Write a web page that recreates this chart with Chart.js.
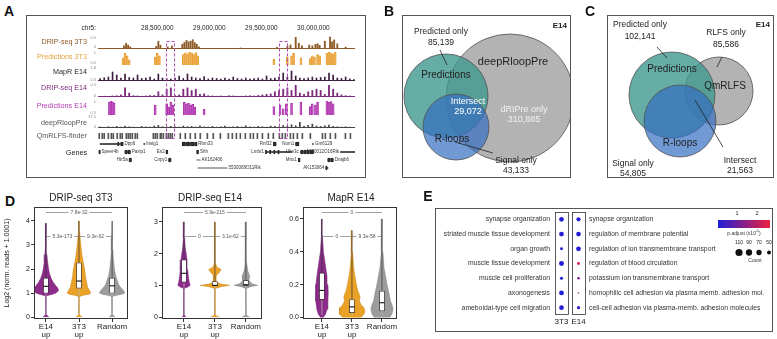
<!DOCTYPE html>
<html><head><meta charset="utf-8">
<script src="https://cdn.jsdelivr.net/npm/chart.js@4.4.1/dist/chart.umd.min.js"></script>
<style>
html,body{margin:0;padding:0;background:#fff;}
#page{position:relative;width:777px;height:339px;overflow:hidden;font-family:"Liberation Sans",Arial,Helvetica,sans-serif;}
#page canvas{position:absolute;}
.t{position:absolute;white-space:nowrap;line-height:1;}
.frame{position:absolute;border:1px solid #555;box-sizing:border-box;}
</style></head>
<body><div id="page"></div>
<script>
// ================= DATA =================
// ---- Panel A: genome browser (chr5, Mb) ----
const chrMin = 27.93, chrMax = 30.40;
const coordTicks = [28.5, 29.0, 29.5, 30.0];
const highlightStart = [28.585, 29.665];
const highlightEnd = [28.665, 29.745];
const binStart = 27.95, binStep = 0.04;

const dripPos3T3 = [28.18,28.20,28.22,28.24,28.49,28.51,28.53,28.60,28.64,28.74,28.76,28.78,28.80,28.82,28.84,28.86,28.88,28.90,29.30,29.65,29.75,29.78,29.83,29.86,29.89,29.96,29.99,30.02,30.04,30.06,30.11,30.16,30.18,30.20,30.23,30.31];
const dripVal3T3 = [0.12,0.22,0.15,0.08,0.10,0.30,0.15,0.08,0.12,0.18,0.25,0.33,0.28,0.30,0.36,0.25,0.18,0.08,0.04,0.06,0.10,0.16,0.45,0.22,0.12,0.15,0.12,0.18,0.20,0.14,0.30,0.46,0.28,0.35,0.20,0.07];

const predPos3T3 = [28.17,28.19,28.21,28.23,28.48,28.50,28.52,28.75,28.77,28.79,28.81,28.83,28.85,28.87,28.89,29.62,29.75,29.79,29.81,29.88,29.97,29.99,30.01,30.04,30.06,30.13,30.15,30.17,30.19,30.21];
const predVal3T3 = [0.78,0.95,0.85,0.70,0.80,0.95,0.85,0.90,0.97,0.92,1.0,0.95,0.90,0.98,0.85,0.72,0.80,0.85,0.95,0.78,0.75,0.85,0.80,0.90,0.85,0.95,1.0,0.97,0.92,1.0];

const mapRE14 = [0.55,0.62,0.7,1.2,0.9,0.6,1.0,0.65,0.6,0.9, 0.55,0.6,0.7,0.5,1.0,0.6,0.55,0.5,0.6,0.8, 0.55,1.0,0.7,0.6,0.55,0.75,0.5,0.6,0.55,0.5, 0.6,0.5,0.7,0.55,0.5,0.6,0.5,0.55,0.6,0.5, 0.8,0.55,0.6,0.7,1.1,0.7,1.3,0.8,0.6,0.55, 0.6,0.7,0.6,0.65,0.7,1.1,0.9,0.6,0.55,0.7, 0.5,0.45];

const dripE14 = [0.02,0.03,0.02,0.04,0.05,0.08,0.35,0.15,0.05,0.04, 0.03,0.04,0.05,0.06,0.2,0.08,0.3,0.35,0.05,0.08, 0.3,0.35,0.25,0.3,0.1,0.12,0.05,0.04,0.03,0.04, 0.03,0.05,0.04,0.03,0.03,0.04,0.05,0.04,0.06,0.08, 0.1,0.12,0.2,0.25,0.3,0.35,0.25,0.45,0.15,0.1, 0.2,0.25,0.3,0.25,0.1,0.45,0.3,0.15,0.08,0.05, 0.04,0.03];

const predPosE14 = [28.04,28.055,28.07,28.085,28.48,28.59,28.61,28.63,28.65,28.76,28.78,28.80,28.82,28.84,28.86,28.95,29.62,29.68,29.71,29.74,29.79,29.88,29.97,29.99,30.02,30.04,30.13,30.15,30.17,30.19];
const predValE14 = [0.95,1.0,0.97,0.92,0.85,0.90,0.78,0.95,0.85,0.95,0.90,0.92,0.85,0.88,0.78,0.70,0.80,0.85,0.72,0.90,0.92,0.95,0.80,0.90,0.85,0.95,1.0,0.95,0.98,0.90];

const deepRloopPre = [3,2,4,3,5,3,6,4,3,2, 5,4,3,6,8,4,3,5,4,3, 6,4,5,3,7,4,3,5,3,4, 6,3,4,5,3,7,4,3,5,4, 3,6,5,4,8,6,10,7,18,5, 8,12,6,5,7,9,5,4,3,4, 3,2];

const qmrlfsPos = [27.942,27.971,27.990,28.029,28.058,28.077,28.115,28.144,28.163,28.202,28.221,28.240,28.260,28.288,28.308,28.462,28.481,28.500,28.529,28.538,28.558,28.587,28.606,28.625,28.644,28.721,28.769,28.817,28.865,28.913,28.981,29.038,29.106,29.183,29.221,29.260,29.298,29.346,29.394,29.423,29.462,29.510,29.567,29.615,29.673,29.702,29.731,29.779,29.808,29.846,29.894,29.971,30.087,30.115,30.163,30.212,30.308,30.356];

const geneName  = ['Dpp6','Insig1','Rbm33','Rnf32','Nom1','Gm6129','Speer4b','Paxip1','En2','Shh','Lmbr1','Ube3c','A930012O16Rik','Htr5a','Cnpy1','AK162406','Mnx1','Dnajb6','5530068O11Rik','AK153064'];
const geneRow   = [0,0,0,0,0,0, 1,1,1,1,1,1,1, 2,2,2,2,2, 3,3];
const geneStart = [27.95,28.37,28.74,29.615,29.83,29.99, 27.94,28.19,28.585,28.88,29.54,29.875,30.26, 28.23,28.61,28.88,29.855,30.14, 28.89,30.12];
const geneEnd   = [28.17,28.38,28.88,29.64,29.86,30.0, 27.95,28.24,28.60,28.895,29.79,30.0,30.40, 28.25,28.63,28.91,29.87,30.19, 29.17,30.14];
const geneSide  = ['r','r','r','l','l','r', 'r','r','l','r','l','l','l', 'l','l','r','l','r', 'r','l'];
const geneDotted= [0,0,0,0,0,0, 0,0,0,0,0,0,0, 0,0,1,0,0, 1,0];
const exonRow   = [0,0,0,0,0,0,0,0, 1,1,1,1,1,1,1,1,1,1,1,1,1, 2,2,2,2,2, 3];
const exonStart = [28.12,28.15,28.74,28.78,28.82,28.86,29.615,29.83, 27.94,28.19,28.22,28.585,28.88,29.54,29.58,29.62,29.66,29.88,29.91,29.94,29.97, 28.23,28.61,29.855,30.14,30.17, 30.12];
const exonEnd   = [28.13,28.17,28.77,28.81,28.85,28.88,29.64,29.86, 27.95,28.21,28.24,28.60,28.895,29.55,29.59,29.63,29.67,29.90,29.93,29.96,30.0, 28.25,28.63,29.87,30.16,30.19, 30.13];

// ---- Panels B / C: Venn (box-relative units, 1 unit = 1 px) ----
const vennFills = ['rgba(52,110,192,0.70)','rgba(62,152,142,0.80)','rgba(172,172,172,0.92)'];
const vennBcx = [54, 44, 108], vennBcy = [112, 81, 83], vennBr = [33, 42, 64];
const vennCcx = [73, 65, 112], vennCcy = [106, 80, 76], vennCr = [36, 43, 34];
const vennBlines = [[38,35,45,50],[53,127,91,138]];
const vennClines = [[50,32,60,43],[115,42,110,52],[88,85,116,132]];

// ---- Panel D: violins ----
const violinLabels = [['E14','up'],['3T3','up'],'Random'];
const violinColors = ['#8D2B8B','#E9A227','#9C9C9C'];
const violinEdges  = ['#6E1E6C','#C98410','#7E7E7E'];

const d1Levels = [[0,0.05,0.12,0.85,0.9,0.95,1.0,1.1,1.2,1.3,1.45,1.6,1.8,2.0,2.3,2.6,3.0,3.5,3.9],
                  [0,0.06,0.15,0.85,0.9,0.95,1.0,1.1,1.25,1.5,1.75,2.0,2.25,2.5,2.8,3.2,3.6,4.0],
                  [0,0.06,0.15,0.85,0.9,0.95,1.0,1.1,1.2,1.35,1.5,1.7,2.0,2.4,2.8,3.3,4.0]];
const d1Widths = [[0.09,0.05,0.006,0.006,0.05,0.2,0.3,0.38,0.36,0.3,0.22,0.16,0.11,0.08,0.05,0.03,0.018,0.009,0.003],
                  [0.09,0.04,0.006,0.006,0.1,0.3,0.36,0.32,0.26,0.22,0.19,0.17,0.13,0.1,0.07,0.04,0.015,0.004],
                  [0.09,0.04,0.006,0.006,0.1,0.3,0.38,0.35,0.28,0.2,0.16,0.11,0.07,0.04,0.022,0.01,0.003]];
const d1Q1 = [1.0,1.2,1.0], d1Med = [1.28,1.5,1.3], d1Q3 = [1.62,2.25,1.62], d1Max = [3.9,4.0,4.0];
const d1Brackets = [[1,3,4.37,'7.8e-32'],[1,2,3.37,'5.3e-173'],[2,3,3.37,'9.3e-62']];
const d1Ticks = [0,1,2,3,4];

const d2Levels = [[0,0.05,0.1,0.9,0.95,1.0,1.1,1.3,1.5,1.8,2.0,2.2,2.5,3.0],
                  [0,0.04,0.08,0.9,0.96,1.0,1.04,1.1,1.3,1.42,1.5,1.58,1.7,2.0,3.0],
                  [0,0.04,0.08,0.9,0.96,1.0,1.05,1.15,1.3,1.45,1.7,2.0,3.0]];
const d2Widths = [[0.06,0.02,0.006,0.01,0.12,0.2,0.17,0.14,0.12,0.1,0.07,0.04,0.02,0.004],
                  [0.14,0.05,0.006,0.01,0.2,0.48,0.2,0.05,0.04,0.15,0.2,0.06,0.02,0.01,0.004],
                  [0.12,0.04,0.006,0.01,0.15,0.38,0.2,0.1,0.12,0.06,0.025,0.01,0.004]];
const d2Q1 = [1.1,1.0,1.0], d2Med = [1.38,1.0,1.02], d2Q3 = [1.8,1.12,1.15], d2Max = [3.0,3.0,3.0];
const d2Brackets = [[1,3,3.31,'5.9e-215'],[1,2,2.55,'0'],[2,3,2.55,'3.1e-62']];
const d2Ticks = [0,1,2,3];

const d3Levels = [[0,0.02,0.05,0.1,0.15,0.2,0.25,0.3,0.35,0.4,0.5,0.6],
                  [0,0.02,0.04,0.06,0.08,0.1,0.13,0.16,0.2,0.25,0.3,0.4,0.53],
                  [0,0.02,0.05,0.08,0.1,0.15,0.2,0.25,0.3,0.4,0.5,0.6]];
const d3Widths = [[0.04,0.12,0.17,0.2,0.21,0.2,0.17,0.13,0.09,0.05,0.015,0.003],
                  [0.3,0.4,0.43,0.4,0.3,0.25,0.27,0.2,0.15,0.1,0.06,0.02,0.003],
                  [0.25,0.33,0.37,0.33,0.28,0.23,0.17,0.12,0.07,0.03,0.01,0.003]];
const d3Q1 = [0.11,0.03,0.04], d3Med = [0.165,0.065,0.09], d3Q3 = [0.27,0.11,0.16], d3Max = [0.6,0.53,0.6];
const d3Brackets = [[1,3,0.643,'0'],[1,2,0.496,'0'],[2,3,0.496,'9.3e-58']];
const d3Ticks = [0,0.2,0.4,0.6];

// ---- Panel E: GO dot plot ----
const goGroups = ['3T3','E14'];
const goTerms3T3 = ['synapse organization','striated muscle tissue development','organ growth','muscle tissue development','muscle cell proliferation','axonogenesis','ameboidal-type cell migration'];
const goCount3T3 = [60,62,38,64,40,62,60];
const goPadj3T3  = [0.10,0.12,0.15,0.10,0.15,0.10,0.12];
const goTermsE14 = ['synapse organization','regulation of membrane potential','regulation of ion transmembrane transport','regulation of blood circulation','potassium ion transmembrane transport','homophilic cell adhesion via plasma memb. adhesion mol.','cell-cell adhesion via plasma-memb. adhesion molecules'];
const goCountE14 = [52,60,62,38,35,27,42];
const goPadjE14  = [0.10,0.12,0.15,2.4,1.3,1.7,0.4];
const sizeLegendCounts = [110,90,70,50];
const padjMin = 0.05, padjMax = 2.65;

// ================= HELPERS =================
const FONT = "'Liberation Sans', Arial, Helvetica, sans-serif";
Chart.defaults.font.family = FONT;
Chart.defaults.color = '#222';
Chart.defaults.plugins.legend.display = false;
Chart.defaults.plugins.tooltip.enabled = false;
Chart.defaults.animation = false;
Chart.defaults.layout.autoPadding = false;
const base = {responsive:false, animation:false, devicePixelRatio:1, events:[]};
const page = document.getElementById('page');
function cv(x,y,w,h){
  const c=document.createElement('canvas');
  c.width=w;c.height=h;c.style.left=x+'px';c.style.top=y+'px';c.style.width=w+'px';c.style.height=h+'px';
  page.appendChild(c);return c;
}
function txt(s,x,y,o={}){
  const d=document.createElement('div');d.className='t';d.innerHTML=s;
  d.style.left=x+'px';d.style.top=y+'px';d.style.fontSize=(o.size||8)+'px';d.style.color=o.color||'#222';
  if(o.bold)d.style.fontWeight='bold';
  const ax=o.align==='right'?'-100%':o.align==='left'?'0':'-50%';
  d.style.transform=`translate(${ax},-50%)`;
  page.appendChild(d);return d;
}
function frame(x,y,w,h){const d=document.createElement('div');d.className='frame';
  d.style.left=x+'px';d.style.top=y+'px';d.style.width=w+'px';d.style.height=h+'px';page.appendChild(d);}
const binPositions = vals => vals.map((_,i)=>binStart+binStep*i);
const fixH = h => ax => { ax.height=h; ax.paddingLeft=0; ax.paddingRight=0; };
const fixW = w => ax => { ax.width=w; ax.paddingTop=0; ax.paddingBottom=0; };

// ================= PANEL A =================
frame(26,15,340,163);
txt('A',9,11,{size:14,bold:true,color:'#111'});

const baselinePlugin = {id:'baseline', beforeDatasetsDraw(chart,args,o){
  if(!o||!o.color)return;
  const {ctx,chartArea:a}=chart;
  ctx.save();ctx.strokeStyle=o.color;ctx.lineWidth=1;ctx.beginPath();
  ctx.moveTo(a.left,a.bottom-0.5);ctx.lineTo(a.right,a.bottom-0.5);ctx.stroke();ctx.restore();
}};
function track(top,h,pos,vals,color,ymin,ymax,thick,baseColor,fillColor){
  new Chart(cv(98,top,257,h),{
    type:'bar',
    data:{datasets:[{data:pos.map((p,i)=>({x:p,y:vals[i]})),backgroundColor:fillColor||color,borderColor:color,
      borderWidth:fillColor?{left:0.6,right:0.6,top:0.6,bottom:0}:0,borderSkipped:'bottom',barThickness:thick}]},
    options:{...base,layout:{padding:0,autoPadding:false},
      scales:{x:{type:'linear',offset:false,grid:{offset:false},min:chrMin,max:chrMax,display:false},y:{type:'linear',min:ymin,max:ymax,display:false}},
      plugins:{baseline:{color:baseColor}}},
    plugins:[baselinePlugin]
  });
}
track(36,13,dripPos3T3,dripVal3T3,'#8E5B26',0,0.5,1.2,'#8E5B26');
track(52,13,predPos3T3,predVal3T3,'#E59A2C',0.5,1,2,null,'rgba(240,180,90,0.75)');
track(66,15,binPositions(mapRE14),mapRE14,'#3E1F3E',0.3,1.8,1.0,'#3E1F3E');
track(84,13,binPositions(dripE14),dripE14,'#7D2B7D',0,0.5,1.2,'#7D2B7D');
track(101,14,predPosE14,predValE14,'#A82CA8',0.5,1,2,null,'rgba(195,90,195,0.75)');
track(116,12,binPositions(deepRloopPre),deepRloopPre,'#444',0,37.5,1.0,'#444');
track(133,6,qmrlfsPos,qmrlfsPos.map(()=>1),'#555',0,1,1,null);

const highlightPlugin={id:'hl',afterDraw(chart){
  const {ctx,chartArea:a,scales:{x}}=chart;
  ctx.save();ctx.strokeStyle='#B048B4';ctx.lineWidth=1;ctx.setLineDash([3,2]);
  highlightStart.forEach((s,i)=>{const x1=Math.round(x.getPixelForValue(s))+0.5,x2=Math.round(x.getPixelForValue(highlightEnd[i]))+0.5;
    ctx.strokeRect(x1,a.top+0.5,x2-x1,a.bottom-a.top-1);});
  ctx.restore();
}};
new Chart(cv(98,17,257,122),{
  type:'scatter',data:{datasets:[{data:[]}]},
  options:{...base,layout:{padding:0,autoPadding:false},
    scales:{x:{type:'linear',offset:false,position:'top',min:chrMin,max:chrMax,
      afterBuildTicks:ax=>{ax.ticks=coordTicks.map(v=>({value:v}));},
      afterFit:fixH(24),
      ticks:{autoSkip:false,maxRotation:0,padding:9,font:{size:6.5},color:'#222',callback:v=>Math.round(v*1e6).toLocaleString('en-US')},
      grid:{display:false,drawTicks:false},border:{display:false}},
      y:{display:false,min:0,max:1}}},
  plugins:[highlightPlugin]
});
txt('chr5:',96,28,{size:6.5,align:'right'});

const geneLabelPlugin={id:'gl',afterDatasetsDraw(chart){
  const {ctx,scales:{x,y}}=chart;
  ctx.save();ctx.font='4.5px '+FONT;ctx.fillStyle='#333';ctx.textBaseline='middle';
  geneName.forEach((n,i)=>{const py=y.getPixelForValue(geneRow[i]);
    if(geneSide[i]==='r'){ctx.textAlign='left';ctx.fillText(n,x.getPixelForValue(geneEnd[i])+1.5,py);}
    else{ctx.textAlign='right';ctx.fillText(n,x.getPixelForValue(geneStart[i])-1.5,py);}
  });ctx.restore();
}};
new Chart(cv(90,140,273,32),{
  type:'bar',
  data:{labels:['r0','r1','r2','r3'],datasets:[
    {data:geneStart.map((s,i)=>({x:[s,geneEnd[i]],y:'r'+geneRow[i]})),backgroundColor:geneDotted.map(d=>d?'#999':'#333'),barThickness:1,grouped:false},
    {data:exonStart.map((s,i)=>({x:[s,exonEnd[i]],y:'r'+exonRow[i]})),backgroundColor:'#222',barThickness:3.5,grouped:false}
  ]},
  options:{...base,indexAxis:'y',layout:{padding:{left:8,right:8,top:0,bottom:0},autoPadding:false},
    scales:{x:{type:'linear',offset:false,min:chrMin,max:chrMax,display:false},y:{type:'category',labels:['r0','r1','r2','r3'],offset:true,display:false}}},
  plugins:[geneLabelPlugin]
});

[['DRIP-seq 3T3',42,'#8E5B26'],['Predictions 3T3',57,'#E3A040'],['MapR E14',72,'#2A1A2A'],['DRIP-seq E14',88,'#7D2B7D'],
 ['Predictions E14',106,'#B43AB4'],['deepRloopPre',123,'#555'],['QmRLFS-finder',136,'#555'],['Genes',153,'#222']]
 .forEach(([s,y,c])=>txt(s,87,y,{size:7.2,color:c,align:'right'}));
[['0.5',38],['0',47],['1',53],['0.5',63],['1.8',68],['0.3',80],['0.5',85],['0',96],['1',102],['0.5',113],['37.5',117],['0',127]]
 .forEach(([s,y])=>txt(s,96,y,{size:4,color:'#888',align:'right'}));

// ================= PANELS B / C =================
function leaderPlugin(lines){return {id:'ld',afterDatasetsDraw(chart){
  const {ctx,scales:{x,y}}=chart;ctx.save();ctx.strokeStyle='#222';ctx.lineWidth=0.8;
  lines.forEach(([x1,y1,x2,y2])=>{ctx.beginPath();ctx.moveTo(x.getPixelForValue(x1),y.getPixelForValue(y1));ctx.lineTo(x.getPixelForValue(x2),y.getPixelForValue(y2));ctx.stroke();});
  ctx.restore();}};}
function vennChart(left,top,w,h,cx,cy,rr,lines){
  new Chart(cv(left,top,w,h),{
    type:'bubble',
    data:{datasets:cx.map((x,i)=>({data:[{x:x,y:cy[i],r:rr[i]}],backgroundColor:vennFills[i],borderColor:'#505050',borderWidth:0.8,clip:false}))},
    options:{...base,layout:{padding:0,autoPadding:false},scales:{x:{type:'linear',min:0,max:w,display:false},y:{type:'linear',min:0,max:h,reverse:true,display:false}}},
    plugins:[leaderPlugin(lines)]
  });
}
vennChart(402,15,169,163,vennBcx,vennBcy,vennBr,vennBlines);
frame(402,15,169,163);
txt('B',389,11,{size:14,bold:true,color:'#111'});
txt('E14',567,26,{size:8,bold:true,align:'right'});
txt('Predicted only',441,31,{size:8.5});txt('85,139',441,42,{size:8.5});
txt('deepRloopPre',513,61,{size:11});
txt('Predictions',446,75,{size:10});
txt('Intersect',468,101,{size:9,color:'#fff'});txt('29,072',468,111,{size:9,color:'#fff'});
txt('dRIPre only',524,109,{size:9,color:'#f2f2f2'});txt('310,885',524,119,{size:9,color:'#f2f2f2'});
txt('R-loops',452,139,{size:10});
txt('Signal only',516,160,{size:8.5});txt('43,133',516,170,{size:8.5});

vennChart(607,15,167,163,vennCcx,vennCcy,vennCr,vennClines);
frame(607,15,167,163);
txt('C',590,11,{size:14,bold:true,color:'#111'});
txt('E14',770,25,{size:8,bold:true,align:'right'});
txt('Predicted only',640,24,{size:8.5});txt('102,141',640,36,{size:8.5});
txt('RLFS only',726,32,{size:8.5});txt('85,586',726,44,{size:8.5});
txt('Predictions',672,69,{size:10});
txt('QmRLFS',725,86,{size:10});
txt('R-loops',680,143,{size:10});
txt('Intersect',740,160,{size:8.5});txt('21,563',740,170,{size:8.5});
txt('Signal only',633,163,{size:8.5});txt('54,805',633,173,{size:8.5});

// ================= PANEL D =================
txt('D',10,201,{size:14,bold:true,color:'#111'});
const framePlugin={id:'frm',afterDraw(chart){const {ctx,chartArea:a}=chart;ctx.save();ctx.strokeStyle='#333';ctx.lineWidth=1;
  ctx.strokeRect(Math.round(a.left)+0.5,Math.round(a.top)+0.5,Math.round(a.width)-1,Math.round(a.height)-1);ctx.restore();}};
function bracketPlugin(items){return {id:'brk',afterDatasetsDraw(chart){
  const {ctx,scales:{x,y}}=chart;ctx.save();ctx.font='5px '+FONT;ctx.textAlign='center';ctx.textBaseline='middle';
  items.forEach(([x1,x2,yv,lab])=>{const p1=x.getPixelForValue(x1),p2=x.getPixelForValue(x2),py=Math.round(y.getPixelForValue(yv))+0.5;
    ctx.strokeStyle='#777';ctx.lineWidth=0.7;ctx.beginPath();ctx.moveTo(p1,py);ctx.lineTo(p2,py);ctx.stroke();
    const w=ctx.measureText(lab).width+4,mx=(p1+p2)/2;ctx.fillStyle='#fff';ctx.fillRect(mx-w/2,py-3,w,6);
    ctx.fillStyle='#555';ctx.fillText(lab,mx,py);});
  ctx.restore();}};}
function violinPoly(c,lv,wd){
  const right=lv.map((y,i)=>({x:c+wd[i],y:y}));
  const left=lv.map((y,i)=>({x:c-wd[i],y:y})).reverse();
  return right.concat(left);
}
function violinPlot(o){
  const ds=[];
  o.levels.forEach((lv,i)=>{
    ds.push({type:'scatter',data:violinPoly(i+1,lv,o.widths[i]),showLine:true,fill:'shape',tension:0,
      backgroundColor:violinColors[i],borderColor:violinEdges[i],borderWidth:0.5,pointRadius:0,order:5});
    ds.push({type:'scatter',data:[{x:i+1,y:o.q3[i]},{x:i+1,y:o.max[i]}],showLine:true,borderColor:'#333',borderWidth:0.7,pointRadius:0,order:4});
    ds.push({type:'scatter',data:[{x:i+1,y:0.02*(o.ymax)},{x:i+1,y:o.q1[i]}],showLine:true,borderColor:'#bbb',borderWidth:0.7,pointRadius:0,order:4});
  });
  ds.push({type:'bar',data:o.q1.map((q,i)=>({x:i+1,y:[q,o.q3[i]]})),backgroundColor:'#fff',borderColor:'#222',borderWidth:0.7,borderSkipped:false,barThickness:5,order:2});
  ds.push({type:'scatter',data:o.med.map((m,i)=>({x:i+1,y:m})),pointStyle:'line',pointRadius:2.6,pointBorderColor:'#111',pointBorderWidth:1.1,order:1});
  new Chart(cv(o.left,190,o.width,149),{
    type:'scatter',data:{datasets:ds},
    options:{...base,layout:{padding:{left:o.padL,top:17,right:o.padR,bottom:0},autoPadding:false},
      scales:{
        x:{type:'linear',offset:false,min:o.xmin,max:o.xmax,
          afterBuildTicks:ax=>{ax.ticks=[1,2,3].map(v=>({value:v}));},
          afterFit:fixH(20),
          ticks:{autoSkip:false,maxRotation:0,minRotation:0,padding:1,font:{size:8,lineHeight:1.0},color:'#222',callback:v=>violinLabels[v-1]},
          grid:{offset:false,drawOnChartArea:false,drawTicks:true,tickLength:3,color:'#333'},border:{display:false}},
        y:{type:'linear',min:o.ymin,max:o.ymax,
          afterBuildTicks:ax=>{ax.ticks=o.ticks.map(v=>({value:v}));},
          afterFit:fixW(o.yW),
          ticks:{padding:1,font:{size:7},color:'#222',callback:v=>o.fmt(v)},
          grid:{drawOnChartArea:false,drawTicks:true,tickLength:3,color:'#333'},border:{display:false},
          title:{display:!!o.yTitle,text:o.yTitle||'',font:{size:7},padding:0,color:'#222'}}
      }},
    plugins:[framePlugin,bracketPlugin(o.brackets)]
  });
}
violinPlot({left:0,width:132,padL:3,padR:4,yW:31,xmin:0.64,xmax:3.48,ymin:-0.08,ymax:4.58,ticks:d1Ticks,fmt:v=>String(v),
  levels:d1Levels,widths:d1Widths,q1:d1Q1,med:d1Med,q3:d1Q3,max:d1Max,brackets:d1Brackets,yTitle:'Log2 (norm. reads + 1.0001)'});
violinPlot({left:132,width:132,padL:0,padR:2,yW:30,xmin:0.29,xmax:3.52,ymin:-0.06,ymax:3.47,ticks:d2Ticks,fmt:v=>String(v),
  levels:d2Levels,widths:d2Widths,q1:d2Q1,med:d2Med,q3:d2Q3,max:d2Max,brackets:d2Brackets});
violinPlot({left:264,width:136,padL:0,padR:3,yW:39,xmin:0.37,xmax:3.5,ymin:-0.009,ymax:0.673,ticks:d3Ticks,fmt:v=>v.toFixed(1),
  levels:d3Levels,widths:d3Widths,q1:d3Q1,med:d3Med,q3:d3Q3,max:d3Max,brackets:d3Brackets});
txt('DRIP-seq 3T3',81,198,{size:10});
txt('DRIP-seq E14',210,198,{size:10});
txt('MapR E14',351,198,{size:10});

// ================= PANEL E =================
txt('E',428,196,{size:14,bold:true,color:'#111'});
frame(435,208,338,124);
const cBlue=[30,30,215], cRed=[236,32,62];
function padjColor(p){const t=Math.max(0,Math.min(1,(p-padjMin)/(padjMax-padjMin)));
  const c=cBlue.map((b,i)=>Math.round(b+(cRed[i]-b)*t));return `rgb(${c[0]},${c[1]},${c[2]})`;}
function countRadius(n){return Math.sqrt(Math.max(0.15,0.149*n-3.47));}
const colBoxPlugin={id:'cb',beforeDatasetsDraw(chart){const {ctx,chartArea:a,scales:{x}}=chart;ctx.save();ctx.strokeStyle='#333';ctx.lineWidth=0.8;
  goGroups.forEach((g,i)=>{const cx=x.getPixelForValue(i);ctx.strokeRect(Math.round(cx-6.5)+0.5,Math.round(a.top)+0.5,13,Math.round(a.height)-1);});ctx.restore();}};
new Chart(cv(436,209,336,122),{
  type:'bubble',
  data:{datasets:[
    {data:goTerms3T3.map(t=>({x:'3T3',y:t})),radius:c=>countRadius(goCount3T3[c.dataIndex]),backgroundColor:goPadj3T3.map(padjColor),borderWidth:0,yAxisID:'y'},
    {data:goTermsE14.map(t=>({x:'E14',y:t})),radius:c=>countRadius(goCountE14[c.dataIndex]),backgroundColor:goPadjE14.map(padjColor),borderWidth:0,yAxisID:'y2'}
  ]},
  options:{...base,layout:{padding:{top:3,left:0,right:0,bottom:0},autoPadding:false},
    scales:{
      x:{type:'category',labels:goGroups,offset:true,afterFit:fixH(16),ticks:{font:{size:8},color:'#222',padding:2,maxRotation:0,minRotation:0,autoSkip:false},grid:{display:false,drawTicks:false},border:{display:false}},
      y:{type:'category',labels:goTerms3T3,offset:true,position:'left',afterFit:fixW(117),ticks:{font:{size:6.8},color:'#333',padding:3,autoSkip:false},grid:{display:false,drawTicks:false},border:{display:false}},
      y2:{type:'category',labels:goTermsE14,offset:true,position:'right',afterFit:fixW(185),ticks:{font:{size:6.8},color:'#333',padding:2,autoSkip:false},grid:{display:false,drawTicks:false},border:{display:false}}
    }},
  plugins:[colBoxPlugin]
});
const grad=document.createElement('div');grad.style.position='absolute';grad.style.left='718px';grad.style.top='220px';grad.style.width='52px';grad.style.height='8px';
grad.style.background=`linear-gradient(to right, ${padjColor(padjMin)}, ${padjColor((padjMin+padjMax)/2)}, ${padjColor(padjMax)})`;page.appendChild(grad);
txt('1',737,214,{size:5.5});txt('2',757,214,{size:5.5});
txt('p.adjust (x10<sup style="font-size:3.5px">-5</sup>)',744,233,{size:5,color:'#333'});
new Chart(cv(734,240,40,18),{
  type:'bubble',
  data:{datasets:[{data:sizeLegendCounts.map(n=>({x:String(n),y:0})),radius:c=>countRadius(sizeLegendCounts[c.dataIndex]),backgroundColor:'#111',borderWidth:0}]},
  options:{...base,layout:{padding:0,autoPadding:false},scales:{
    x:{type:'category',labels:sizeLegendCounts.map(String),offset:true,position:'top',afterFit:fixH(7),ticks:{font:{size:5},padding:1,color:'#222',maxRotation:0,minRotation:0,autoSkip:false},grid:{display:false,drawTicks:false},border:{display:false}},
    y:{type:'linear',display:false,min:-1,max:1}}}
});
txt('Count',755,260,{size:5,color:'#333'});
</script></body></html>
